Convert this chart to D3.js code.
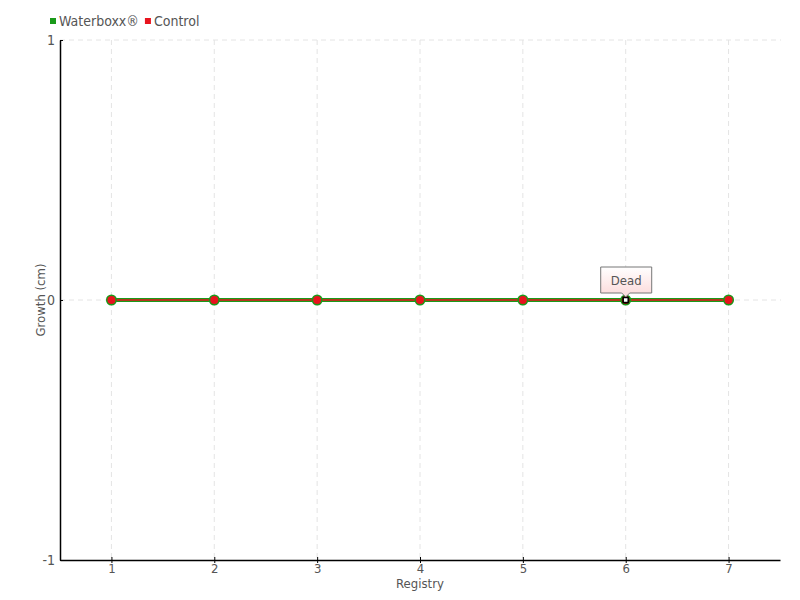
<!DOCTYPE html>
<html>
<head>
<meta charset="utf-8">
<script src="https://cdn.jsdelivr.net/npm/d3@7"></script>
<style>
  body { margin: 0; background: #fff; }
  svg text { font-family: "DejaVu Sans", sans-serif; font-stretch: condensed; fill: #555; }
</style>
</head>
<body>
<svg id="chart" width="800" height="600"></svg>
<script>
var registry = [1, 2, 3, 4, 5, 6, 7];
var waterboxx = [0, 0, 0, 0, 0, 0, 0];
var control = [0, 0, 0, 0, 0, 0, 0];
var yTicks = [-1, 0, 1];
// point marked as dead on the Control series
var deadIndex = 5;
var deadLabel = "Dead";

var margin = {top: 40, right: 20, bottom: 40, left: 60};
var width = 800, height = 600;

var svg = d3.select("#chart");

var x = d3.scaleLinear()
    .domain([0.5, 7.5])
    .range([margin.left, width - margin.right]);
var y = d3.scaleLinear()
    .domain([-1, 1])
    .range([height - margin.bottom, margin.top]);

// grid
var grid = svg.append("g").attr("class", "grid");
grid.selectAll("line.vx")
    .data(registry)
    .enter().append("line")
    .attr("x1", function(d) { return x(d); })
    .attr("x2", function(d) { return x(d); })
    .attr("y1", y(1))
    .attr("y2", y(-1))
    .style("stroke", "#e4e4e4")
    .style("stroke-dasharray", "5,4");
grid.selectAll("line.hy")
    .data(yTicks.filter(function(d) { return d > -1; }))
    .enter().append("line")
    .attr("x1", x(0.5))
    .attr("x2", x(7.5) + 1)
    .attr("y1", function(d) { return y(d); })
    .attr("y2", function(d) { return y(d); })
    .style("stroke", "#e4e4e4")
    .style("stroke-dasharray", "5,4");

// axes
var fmt = function(d) { return String(d); };
var xAxis = d3.axisBottom(x).tickValues(registry).tickFormat(fmt)
    .tickSizeInner(3).tickSizeOuter(0).tickPadding(1);
var gx = svg.append("g")
    .attr("transform", "translate(0," + y(-1) + ")")
    .call(xAxis);
gx.select(".domain").style("stroke", "#000").style("stroke-width", 1.5);
gx.selectAll(".tick line").attr("y1", -3).style("stroke", "#000");
gx.selectAll(".tick text").style("font-size", "13px");

var yAxis = d3.axisLeft(y).tickValues(yTicks).tickFormat(fmt)
    .tickSizeInner(3).tickSizeOuter(0).tickPadding(2);
var gy = svg.append("g")
    .attr("transform", "translate(" + x(0.5) + ",0)")
    .call(yAxis);
gy.select(".domain").style("stroke", "#000").style("stroke-width", 1.5);
gy.selectAll(".tick line").attr("x2", 3).style("stroke", "#000");
gy.selectAll(".tick text").style("font-size", "14px");

// axis titles
svg.append("text")
    .attr("x", (x(0.5) + x(7.5)) / 2)
    .attr("y", 588)
    .attr("text-anchor", "middle")
    .style("font-size", "13px")
    .text("Registry");
svg.append("text")
    .attr("transform", "translate(45," + y(0) + ") rotate(-90)")
    .attr("text-anchor", "middle")
    .style("font-size", "13px")
    .text("Growth (cm)");

// lines
var line = d3.line()
    .x(function(d, i) { return x(registry[i]); })
    .y(function(d) { return y(d); });

svg.append("path")
    .datum(waterboxx)
    .attr("d", line)
    .style("fill", "none")
    .style("stroke", "#1a9a1a")
    .style("stroke-width", 4);
svg.append("path")
    .datum(control)
    .attr("d", line)
    .style("fill", "none")
    .style("stroke", "#e8141e")
    .style("stroke-width", 1.5);

// markers
svg.selectAll("circle.wb")
    .data(waterboxx)
    .enter().append("circle")
    .attr("cx", function(d, i) { return x(registry[i]); })
    .attr("cy", function(d) { return y(d); })
    .attr("r", 5.5)
    .style("fill", "#1a9a1a");
svg.selectAll("circle.ct")
    .data(control)
    .enter().append("circle")
    .attr("cx", function(d, i) { return x(registry[i]); })
    .attr("cy", function(d) { return y(d); })
    .attr("r", 4)
    .style("fill", function(d, i) { return i === deadIndex ? "#8a0000" : "#e8141e"; });

// dead marker
var dx = x(registry[deadIndex]), dy = y(control[deadIndex]);
svg.append("rect")
    .attr("x", dx - 2.5)
    .attr("y", dy - 2.5)
    .attr("width", 5)
    .attr("height", 5)
    .style("fill", "#fff")
    .style("stroke", "#000")
    .style("stroke-width", 1.5);

// tooltip
var defs = svg.append("defs");
var grad = defs.append("linearGradient")
    .attr("id", "tipGrad")
    .attr("x1", 0).attr("y1", 0).attr("x2", 0).attr("y2", 1);
grad.append("stop").attr("offset", "0%").attr("stop-color", "#fff");
grad.append("stop").attr("offset", "100%").attr("stop-color", "#fcd8d8");

var tw = 51, th = 26, tx = dx - 25, ty = dy - 33;
var tipPath = "M" + tx + "," + ty +
    " h" + tw + " v" + th +
    " H" + (dx + 4) + " L" + dx + "," + (dy - 3) + " L" + (dx - 4) + "," + (ty + th) +
    " H" + tx + " Z";
svg.append("path")
    .attr("d", tipPath)
    .style("fill", "url(#tipGrad)")
    .style("stroke", "#777")
    .style("stroke-width", 1);
svg.append("text")
    .attr("x", tx + tw / 2)
    .attr("y", ty + 18)
    .attr("text-anchor", "middle")
    .style("font-size", "13px")
    .text(deadLabel);

// legend
var legendItems = [
    {name: "Waterboxx®", color: "#1a9a1a"},
    {name: "Control", color: "#e8141e"}
];
var lg = svg.append("g").attr("transform", "translate(50,18)");
var lx = 0;
legendItems.forEach(function(item) {
    lg.append("rect")
        .attr("x", lx)
        .attr("y", 0)
        .attr("width", 6)
        .attr("height", 6)
        .style("fill", item.color);
    var t = lg.append("text")
        .attr("x", lx + 9)
        .attr("y", 8)
        .style("font-size", "14px")
        .text(item.name);
    lx += 9 + t.node().getComputedTextLength() + 6;
});
</script>
</body>
</html>
